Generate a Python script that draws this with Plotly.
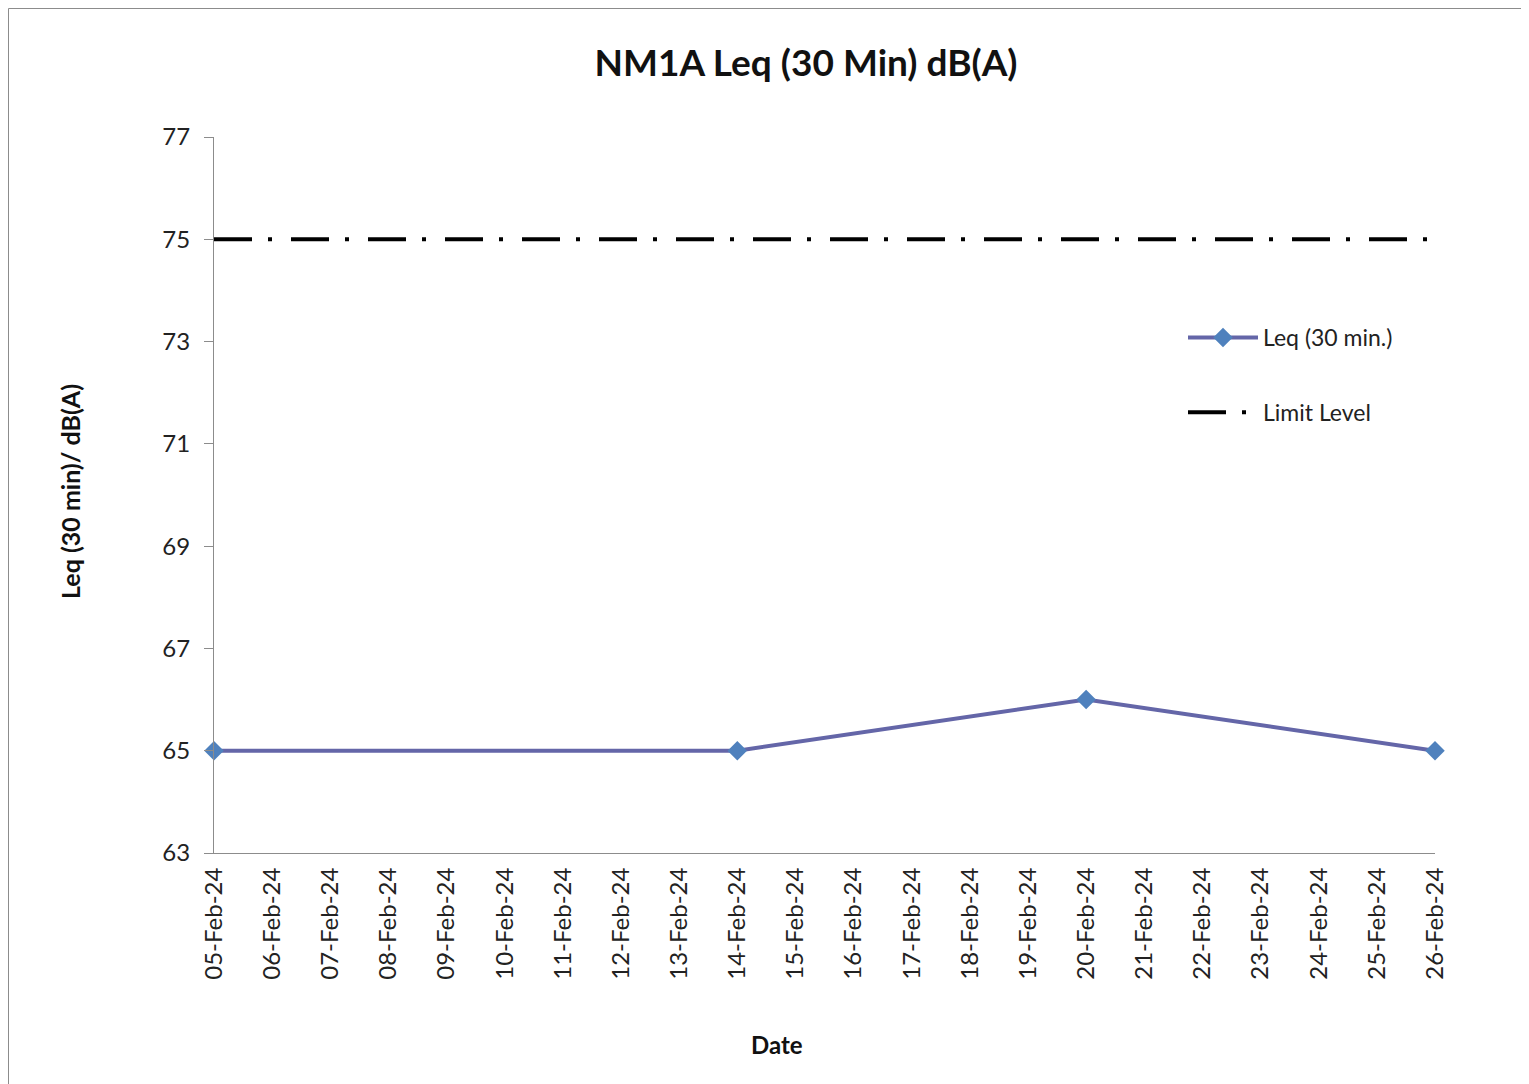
import plotly.graph_objects as go

# ---- data ----
leq_dates = ["2024-02-05", "2024-02-14", "2024-02-20", "2024-02-26"]
leq_values = [65, 65, 66, 65]
limit_dates = ["2024-02-05", "2024-02-26"]
limit_values = [75, 75]
x_range = ["2024-02-05", "2024-02-26"]
y_ticks = [63, 65, 67, 69, 71, 73, 75, 77]

OFF = 8  # page body margin
W, H = 1529 - OFF, 1084 - OFF
L, R, T, B = 214 - OFF, 1435 - OFF, 137 - OFF, 853 - OFF
FONT = "Lato"

def px_to_paper_x(px):
    return (px - OFF - L) / (R - L)

def px_to_paper_y(py):
    return (B - (py - OFF)) / (B - T)

fig = go.Figure()
fig.add_trace(go.Scatter(
    x=leq_dates, y=leq_values, name="Leq (30 min.)", legendgroup="a",
    mode="lines+markers",
    line=dict(color="#6466A8", width=4),
    marker=dict(symbol="diamond", size=15, color="#4F81BD", line=dict(width=0)),
    cliponaxis=False,
))
fig.add_trace(go.Scatter(
    x=limit_dates, y=limit_values, name="Limit Level", legendgroup="b",
    mode="lines",
    line=dict(color="black", width=4, dash="38px,16px,4px,19px"),
))

fig.update_layout(
    width=W, height=H,
    margin=dict(l=L, r=W - R, t=T, b=H - B),
    paper_bgcolor="white", plot_bgcolor="white",
    font=dict(family=FONT, color="#1a1a1a"),
    title=dict(text="<b>NM1A Leq (30 Min) dB(A)</b>", x=px_to_paper_x(806), xref="paper",
               xanchor="center", y=1 - (63 - OFF) / H, yanchor="middle",
               font=dict(size=37, family=FONT, color="#111")),
    legend=dict(x=px_to_paper_x(1183), y=px_to_paper_y(316), xanchor="left", yanchor="top",
                font=dict(size=23, family=FONT, color="#222"),
                itemwidth=70, tracegroupgap=42, bgcolor="rgba(0,0,0,0)"),
    showlegend=True,
)
fig.update_xaxes(
    type="date", range=x_range, dtick=86400000, tick0="2024-02-05",
    tickformat="%d-%b-%y", tickangle=-90,
    showgrid=False, zeroline=False, showline=True, linecolor="#8c8c8c", linewidth=1,
    ticks="", ticklabelstandoff=4, tickfont=dict(size=24, family=FONT, color="#222"),
)
fig.update_yaxes(
    range=[63, 77], tickvals=y_ticks, showgrid=False, zeroline=False,
    showline=True, linecolor="#8c8c8c", linewidth=1,
    ticks="outside", ticklen=9, tickcolor="#8c8c8c", ticklabelstandoff=9,
    tickfont=dict(size=24, family=FONT, color="#222"),
)

fig.add_annotation(text="<b>Leq (30 min)/ dB(A)</b>", xref="paper", yref="paper",
                   x=px_to_paper_x(70), y=px_to_paper_y(492), textangle=-90,
                   showarrow=False, font=dict(size=25, family=FONT, color="#111"),
                   xanchor="center", yanchor="middle")
fig.add_annotation(text="<b>Date</b>", xref="paper", yref="paper",
                   x=px_to_paper_x(777), y=px_to_paper_y(1044),
                   showarrow=False, font=dict(size=24, family=FONT, color="#111"),
                   xanchor="center", yanchor="middle")

# outer chart frame (top and left edges visible)
fig.add_shape(type="line", xref="paper", yref="paper",
              x0=px_to_paper_x(8.5), x1=px_to_paper_x(1529), y0=px_to_paper_y(8.5), y1=px_to_paper_y(8.5),
              line=dict(color="#8c8c8c", width=1))
fig.add_shape(type="line", xref="paper", yref="paper",
              x0=px_to_paper_x(8.5), x1=px_to_paper_x(8.5), y0=px_to_paper_y(8.5), y1=px_to_paper_y(1084),
              line=dict(color="#8c8c8c", width=1))

fig.write_html("out.html")
